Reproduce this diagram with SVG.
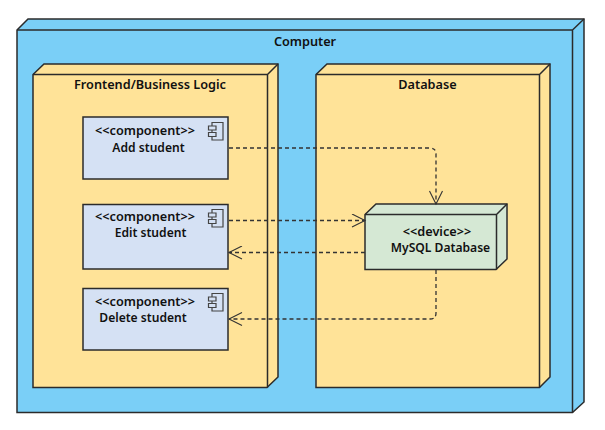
<svg xmlns="http://www.w3.org/2000/svg" width="605" height="430" viewBox="0 0 605 430">
<style>
.s{stroke:#2b2b2b;stroke-width:1.5;stroke-linejoin:miter}
.blue{fill:#7acff7}.yel{fill:#ffe398}.comp{fill:#d5e1f4}.dev{fill:#d5e8d4}
.t{font-family:"Noto Sans","Liberation Sans",sans-serif;font-weight:600;font-size:12.700px;fill:#111;text-anchor:middle}
.n{font-size:12.100px}
.c{fill:none;stroke:#333;stroke-width:1.3;stroke-dasharray:4 3}
.icon{fill:#d5e1f4;stroke:#444;stroke-width:1.2}
</style>
<defs>
<marker id="open" markerWidth="16" markerHeight="14" refX="14" refY="7" orient="auto" markerUnits="userSpaceOnUse"><path d="M1 0.500L14 7L1 13.500" fill="none" stroke="#333" stroke-width="1.1"/></marker>
<g id="ic"><path class="icon" d="M212 122.500H223V140H212Z"/><path class="icon" d="M208.500 126H216V130H208.500Z"/><path class="icon" d="M208.500 132.500H216V136.500H208.500Z"/></g>
</defs>
<g id="computer">
<path class="s blue" d="M17 30L28 19H584V402L572.500 412.500H17Z"/>
<path class="s" fill="none" d="M17 30H572.500V412.500M572.500 30L584 19"/>
<text class="t" x="305" y="46">Computer</text>
</g>
<g id="frontend">
<path class="s yel" d="M33 74.500L44 64H278V377L267 387.500H33Z"/>
<path class="s" fill="none" d="M33 74.500H267.500V387.500M267.500 74.500L278 64"/>
<text class="t" x="150" y="89">Frontend/Business Logic</text>
</g>
<g id="database">
<path class="s yel" d="M316 74.500L327 64H550V377L539.500 387.500H316Z"/>
<path class="s" fill="none" d="M316 74.500H539.500V387.500M539.500 74.500L550 64"/>
<text class="t" x="427.500" y="89">Database</text>
</g>
<g id="add-student">
<rect class="s comp" x="83" y="117" width="145" height="62"/>
<use href="#ic"/>
<text class="t" x="145" y="135">&lt;&lt;component&gt;&gt;</text>
<text class="t n" x="148.500" y="152">Add student</text>
</g>
<g id="edit-student">
<rect class="s comp" x="83" y="204.500" width="145" height="64.500"/>
<use href="#ic" y="87"/>
<text class="t" x="145" y="221">&lt;&lt;component&gt;&gt;</text>
<text class="t n" x="150.500" y="236.500">Edit student</text>
</g>
<g id="delete-student">
<rect class="s comp" x="83" y="288.500" width="145" height="61.500"/>
<use href="#ic" y="171"/>
<text class="t" x="145" y="305.500">&lt;&lt;component&gt;&gt;</text>
<text class="t n" x="143" y="322">Delete student</text>
</g>
<g id="mysql-database">
<path class="s dev" d="M365 214.500L376 204H507V259L496 269.500H365Z"/>
<path class="s" fill="none" d="M365 214.500H496.500V269.500M496.500 214.500L507 204"/>
<text class="t" x="437" y="235.500">&lt;&lt;device&gt;&gt;</text>
<text class="t n" x="440.500" y="252">MySQL Database</text>
</g>
<g id="connectors">
<path class="c" marker-end="url(#open)" d="M229 148H430Q436 148 436 154V204"/>
<path class="c" marker-end="url(#open)" d="M229 220.500H365"/>
<path class="c" marker-end="url(#open)" d="M365 252.500H229"/>
<path class="c" marker-end="url(#open)" d="M436 270V313Q436 319 430 319H229"/>
</g>
</svg>
